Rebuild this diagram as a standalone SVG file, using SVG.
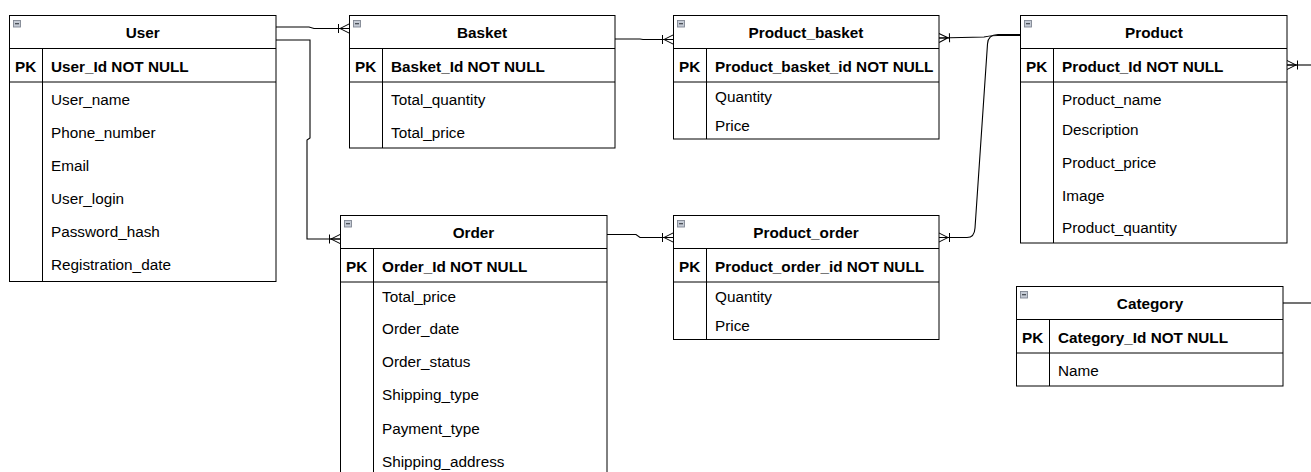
<svg xmlns="http://www.w3.org/2000/svg" width="1311" height="472" viewBox="0 0 1311 472">
<style>
.box{fill:#fff;stroke:#000;stroke-width:1}
.ln{stroke:#000;stroke-width:1;fill:none}
.t{font-family:"Liberation Sans",Arial,sans-serif;font-size:15.3px;fill:#000}
.b{font-weight:bold}
.c{text-anchor:middle}
.ic{fill:#c5cbd5;stroke:#7f8692;stroke-width:0.9}
.im{stroke:#3f444c;stroke-width:1.2}
.con{fill:none;stroke:#000;stroke-width:1.1}
</style>
<defs>
<marker id="om" viewBox="0 0 20 20" refX="12" refY="10" markerWidth="20" markerHeight="20" markerUnits="userSpaceOnUse" orient="auto-start-reverse">
<path d="M12 10 L2 10 M3 10 L12 5.5 M3 10 L12 14.5 M1.5 5.5 L1.5 14.5" fill="none" stroke="#000" stroke-width="1"/>
</marker>
</defs>
<rect width="1311" height="472" fill="#fff"/>

<g id="connectors">
<path class="con" d="M276 27 L309 27 L314 28.5 L349 28.5" marker-end="url(#om)"/>
<path class="con" d="M276 40 L310 40 L310 138 L307 140 L307 239 L340 239" marker-end="url(#om)"/>
<path class="con" d="M615 39 L640 39 L643 39.5 L673 39.5" marker-end="url(#om)"/>
<path class="con" d="M939 38 L984 37 Q990 35.5 998 35.5 L1020 35.5" marker-start="url(#om)"/>
<path class="con" d="M939 237.5 L967 237.5 Q974.5 237.5 975 228 L987.5 44 Q988 34.5 998 34.5 L1020 34.5" marker-start="url(#om)"/>
<path class="con" d="M607 234.5 L636 234.5 L640 237.5 L673 237.5" marker-end="url(#om)"/>
<path class="con" d="M1287 65 L1311 65" marker-start="url(#om)"/>
<path class="con" d="M1283 303 L1311 303"/>
</g>

<g id="user">
<rect class="box" x="9.5" y="15.5" width="266.5" height="266"/>
<line class="ln" x1="9.5" y1="48.5" x2="276" y2="48.5"/>
<line class="ln" x1="9.5" y1="82" x2="276" y2="82" stroke-width="1.3"/>
<line class="ln" x1="42.5" y1="48.5" x2="42.5" y2="281.5"/>
<rect class="ic" x="13.5" y="20.5" width="7" height="6.5"/><line class="im" x1="15" y1="23.7" x2="19" y2="23.7"/>
<text class="t b c" x="142.7" y="38">User</text>
<text class="t b" x="15" y="72">PK</text>
<text class="t b" x="51" y="72">User_Id NOT NULL</text>
<text class="t" x="51" y="105">User_name</text>
<text class="t" x="51" y="138">Phone_number</text>
<text class="t" x="51" y="171">Email</text>
<text class="t" x="51" y="204">User_login</text>
<text class="t" x="51" y="237">Password_hash</text>
<text class="t" x="51" y="270">Registration_date</text>
</g>

<g id="basket">
<rect class="box" x="349.5" y="15.5" width="265.5" height="132.5"/>
<line class="ln" x1="349.5" y1="48.5" x2="615" y2="48.5"/>
<line class="ln" x1="349.5" y1="82" x2="615" y2="82" stroke-width="1.3"/>
<line class="ln" x1="382.5" y1="48.5" x2="382.5" y2="148"/>
<rect class="ic" x="353.5" y="20.5" width="7" height="6.5"/><line class="im" x1="355" y1="23.7" x2="359" y2="23.7"/>
<text class="t b c" x="482" y="38">Basket</text>
<text class="t b" x="355" y="72">PK</text>
<text class="t b" x="391" y="72">Basket_Id NOT NULL</text>
<text class="t" x="391" y="105">Total_quantity</text>
<text class="t" x="391" y="138">Total_price</text>
</g>

<g id="product_basket">
<rect class="box" x="673.5" y="15.5" width="265.5" height="123.5"/>
<line class="ln" x1="673.5" y1="48.5" x2="939" y2="48.5"/>
<line class="ln" x1="673.5" y1="82" x2="939" y2="82" stroke-width="1.3"/>
<line class="ln" x1="706.5" y1="48.5" x2="706.5" y2="139"/>
<rect class="ic" x="677.5" y="20.5" width="7" height="6.5"/><line class="im" x1="679" y1="23.7" x2="683" y2="23.7"/>
<text class="t b c" x="806" y="38">Product_basket</text>
<text class="t b" x="679" y="72">PK</text>
<text class="t b" x="715" y="72">Product_basket_id NOT NULL</text>
<text class="t" x="715" y="102">Quantity</text>
<text class="t" x="715" y="131">Price</text>
</g>

<g id="product">
<rect class="box" x="1020.5" y="15.5" width="266.5" height="227.5"/>
<line class="ln" x1="1020.5" y1="48.5" x2="1287" y2="48.5"/>
<line class="ln" x1="1020.5" y1="82" x2="1287" y2="82" stroke-width="1.3"/>
<line class="ln" x1="1053.5" y1="48.5" x2="1053.5" y2="243"/>
<rect class="ic" x="1024.5" y="20.5" width="7" height="6.5"/><line class="im" x1="1026" y1="23.7" x2="1030" y2="23.7"/>
<text class="t b c" x="1154" y="38">Product</text>
<text class="t b" x="1026" y="72">PK</text>
<text class="t b" x="1062" y="72">Product_Id NOT NULL</text>
<text class="t" x="1062" y="105">Product_name</text>
<text class="t" x="1062" y="135">Description</text>
<text class="t" x="1062" y="168">Product_price</text>
<text class="t" x="1062" y="201">Image</text>
<text class="t" x="1062" y="233">Product_quantity</text>
</g>

<g id="order">
<rect class="box" x="340.5" y="215.5" width="266.5" height="270"/>
<line class="ln" x1="340.5" y1="248.5" x2="607" y2="248.5"/>
<line class="ln" x1="340.5" y1="282" x2="607" y2="282" stroke-width="1.3"/>
<line class="ln" x1="373.5" y1="248.5" x2="373.5" y2="480"/>
<rect class="ic" x="344.5" y="220.5" width="7" height="6.5"/><line class="im" x1="346" y1="223.7" x2="350" y2="223.7"/>
<text class="t b c" x="473.5" y="238">Order</text>
<text class="t b" x="346" y="272">PK</text>
<text class="t b" x="382" y="272">Order_Id NOT NULL</text>
<text class="t" x="382" y="302">Total_price</text>
<text class="t" x="382" y="334">Order_date</text>
<text class="t" x="382" y="367">Order_status</text>
<text class="t" x="382" y="400">Shipping_type</text>
<text class="t" x="382" y="434">Payment_type</text>
<text class="t" x="382" y="467">Shipping_address</text>
</g>

<g id="product_order">
<rect class="box" x="673.5" y="215.5" width="265.5" height="124"/>
<line class="ln" x1="673.5" y1="248.5" x2="939" y2="248.5"/>
<line class="ln" x1="673.5" y1="282" x2="939" y2="282" stroke-width="1.3"/>
<line class="ln" x1="706.5" y1="248.5" x2="706.5" y2="339.5"/>
<rect class="ic" x="677.5" y="220.5" width="7" height="6.5"/><line class="im" x1="679" y1="223.7" x2="683" y2="223.7"/>
<text class="t b c" x="806" y="238">Product_order</text>
<text class="t b" x="679" y="272">PK</text>
<text class="t b" x="715" y="272">Product_order_id NOT NULL</text>
<text class="t" x="715" y="302">Quantity</text>
<text class="t" x="715" y="331">Price</text>
</g>

<g id="category">
<rect class="box" x="1016.5" y="286.5" width="266.5" height="99.5"/>
<line class="ln" x1="1016.5" y1="319.5" x2="1283" y2="319.5"/>
<line class="ln" x1="1016.5" y1="353" x2="1283" y2="353" stroke-width="1.3"/>
<line class="ln" x1="1049.5" y1="319.5" x2="1049.5" y2="386"/>
<rect class="ic" x="1020.5" y="291.5" width="7" height="6.5"/><line class="im" x1="1022" y1="294.7" x2="1026" y2="294.7"/>
<text class="t b c" x="1150" y="309">Category</text>
<text class="t b" x="1022" y="343">PK</text>
<text class="t b" x="1058" y="343">Category_Id NOT NULL</text>
<text class="t" x="1058" y="376">Name</text>
</g>
</svg>
